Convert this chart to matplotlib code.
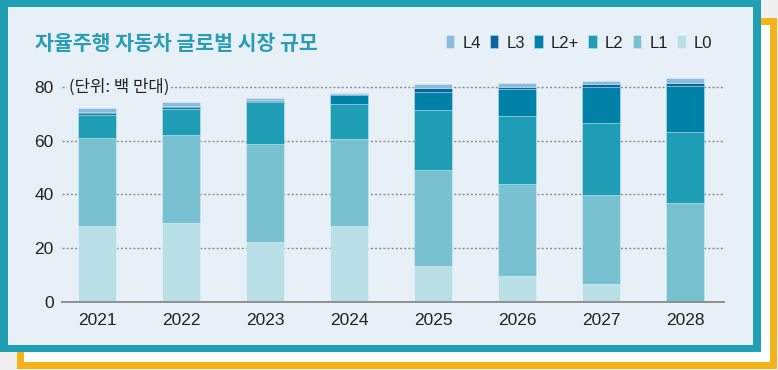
import matplotlib.pyplot as plt
from matplotlib.patches import Rectangle
import numpy as np

# values (millions of units)
years = ['2021', '2022', '2023', '2024', '2025', '2026', '2027', '2028']
L0 = [28.2, 29.4, 22.3, 28.2, 13.4, 9.7, 6.5, 0.0]
L1 = [32.6, 32.6, 36.4, 32.5, 35.5, 34.0, 33.1, 36.7]
L2 = [8.8, 9.7, 15.5, 12.9, 22.6, 25.3, 26.9, 26.6]
L2p = [0.5, 0.7, 0.5, 3.4, 6.5, 10.1, 13.4, 16.9]
L3 = [0.4, 0.5, 0.4, 0.2, 1.5, 0.75, 1.0, 1.2]
L4 = [1.5, 1.5, 0.8, 0.6, 1.5, 1.5, 1.4, 1.7]
levels = ['L0', 'L1', 'L2', 'L2+', 'L3', 'L4']
colors = ['#b9e0e7', '#77c1d0', '#1f9db4', '#0081a7', '#0a64a0', '#88bcdb']
yticks = [0, 20, 40, 60, 80]

title = '자율주행 자동차 글로벌 시장 규모'
unit = '(단위: 백 만대)'

W, H = 778, 370
fig = plt.figure(figsize=(W / 100, H / 100), dpi=100)
fig.patch.set_facecolor('#f0f0f0')

# frames, drawn in pixel coordinates
bg = fig.add_axes([0, 0, 1, 1])
bg.set_xlim(0, W)
bg.set_ylim(H, 0)
bg.axis('off')
bg.add_patch(Rectangle((17, 18), 760, 351, color='#f5b31b', lw=0))
bg.add_patch(Rectangle((24, 25), 746, 337, color='white', lw=0))
bg.add_patch(Rectangle((0, 0), 761, 352, color='#1f9eb4', lw=0))
bg.add_patch(Rectangle((8, 7), 745, 338, color='#e8f0f7', lw=0))

bg.text(35, 43.5, title, fontsize=14.8, fontweight='bold', color='#2a9db5',
        family=['Noto Sans CJK KR', 'DejaVu Sans'], va='center', ha='left')

ax = fig.add_axes([62 / W, (H - 301.7) / H, (724 - 62) / W, 231 / H])
ax.set_facecolor('none')
x = np.arange(len(years))
data = [L0, L1, L2, L2p, L3, L4]
bottom = np.zeros(len(years))
bars = []
for vals, lab, c in zip(data, levels, colors):
    b = ax.bar(x, vals, 0.45, bottom=bottom, color=c, label=lab,
               edgecolor=(1, 1, 1, 0.3), linewidth=0.7, zorder=3)
    bars.append(b)
    bottom += np.array(vals)

ax.set_xlim(-0.417, 7.464)
ax.set_ylim(0, 86)
ax.set_yticks(yticks)
ax.set_xticks(x)
ax.set_xticklabels(years)
for s in ['top', 'right', 'left']:
    ax.spines[s].set_visible(False)
ax.spines['bottom'].set_color('#8a8a8a')
ax.spines['bottom'].set_linewidth(1.3)
ax.spines['bottom'].set_zorder(4)
ax.yaxis.grid(True, linestyle=(0, (1.5, 1.5)), color='#8c8c8c', linewidth=1.0, zorder=1)
ax.tick_params(axis='y', length=0, pad=6)
ax.tick_params(axis='x', length=0, pad=8)
for t in ax.get_xticklabels() + ax.get_yticklabels():
    t.set_family(['Liberation Sans Narrow', 'Liberation Sans'])
    t.set_fontsize(12.5)
    t.set_color('#222222')
ax.get_ygridlines()[0].set_visible(False)

ax.text(0.01, 80, unit, transform=ax.get_yaxis_transform(), fontsize=12,
        color='#222222', va='center', ha='left', zorder=5,
        family=['Noto Sans CJK KR', 'DejaVu Sans'],
        bbox=dict(facecolor='#e8f0f7', edgecolor='none', pad=1.5))

leg = fig.legend(bars[::-1], levels[::-1], ncol=6, loc='center right',
                 bbox_to_anchor=(719 / W, 1 - 43 / H), frameon=False,
                 handlelength=0.5, handleheight=0.8, handletextpad=0.5,
                 columnspacing=0.55, borderaxespad=0,
                 prop={'family': ['Liberation Sans Narrow', 'Liberation Sans'], 'size': 12})
for t in leg.get_texts():
    t.set_color('#222222')

fig.savefig('out.png', dpi=100, facecolor=fig.get_facecolor())
